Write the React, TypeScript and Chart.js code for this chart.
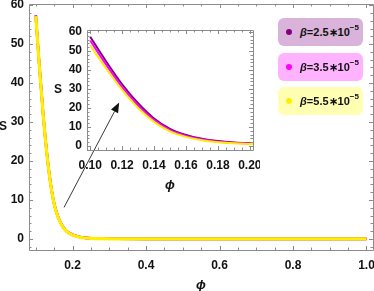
import React, { useEffect, useRef } from "react";
import { Chart, registerables } from "chart.js";

Chart.register(...registerables);

// ---- data ----
// inset (zoomed) curves
const phiValues = [0.1, 0.11, 0.12, 0.13, 0.14, 0.15, 0.16, 0.17, 0.18, 0.19, 0.2, 0.21, 0.22, 0.23, 0.25, 0.28, 0.32, 0.4, 0.6, 0.8, 1.0];
const sBeta25 = [57.5, 44.5, 32.5, 22.5, 14.5, 9.0, 5.8, 3.8, 2.6, 1.9, 1.5, 1.2, 0.95, 0.75, 0.45, 0.2, 0.08, 0.02, 0, 0, 0];
const sBeta35 = [55.5, 42.8, 31.0, 21.3, 13.6, 8.4, 5.3, 3.4, 2.3, 1.7, 1.3, 1.05, 0.8, 0.62, 0.38, 0.17, 0.06, 0.02, 0, 0, 0];
const sBeta55 = [53.0, 40.8, 29.5, 20.0, 12.7, 7.7, 4.8, 3.0, 2.0, 1.4, 1.1, 0.85, 0.65, 0.5, 0.3, 0.13, 0.05, 0.01, 0, 0, 0];
// main-plot curves (as they appear in the full view: nearly coincident)
const mainS25 = [57.4, 44.2, 32.2, 22.2, 14.5, 9.05, 5.85, 3.75, 2.38, 1.58, 1.08, 0.74, 0.49, 0.32, 0.15, 0.06, 0.02, 0, 0, 0, 0];
const mainS35 = [57.3, 44.1, 32.1, 22.1, 14.4, 9.0, 5.8, 3.7, 2.35, 1.55, 1.05, 0.72, 0.48, 0.31, 0.15, 0.06, 0.02, 0, 0, 0, 0];
const mainS55 = [57.2, 44.0, 32.0, 22.0, 14.3, 8.95, 5.75, 3.65, 2.32, 1.52, 1.02, 0.7, 0.47, 0.3, 0.14, 0.05, 0.02, 0, 0, 0, 0];

const seriesLabels = ["2.5", "3.5", "5.5"];
const seriesColors = ["#800080", "#ff00ff", "#ffee00"];
const legendFills = ["#d9b3d9", "#ffb3ff", "#ffffb3"];

// arrow annotation in main-plot data coordinates [phi, S]
const arrowFrom = [0.177, 8.1];
const arrowTo = [0.327, 35];

const FONT = "'Liberation Sans', Arial, sans-serif";

const toPoints = (ys: number[]) => phiValues.map((x, i) => ({ x, y: ys[i] }));

const framePlugin = {
  id: "frame",
  afterDraw(chart: any, _args: any, opts: any) {
    const { ctx, chartArea: a } = chart;
    const xs = chart.scales.x;
    const ys = chart.scales.y;
    ctx.save();
    ctx.strokeStyle = "#8c8c8c";
    ctx.lineWidth = 1;
    ctx.beginPath();
    ctx.rect(Math.round(a.left) + 0.5, Math.round(a.top) + 0.5, Math.round(a.right - a.left), Math.round(a.bottom - a.top));
    ctx.stroke();
    const major = 4;
    const minor = 2.5;
    ctx.beginPath();
    const xMajor = xs.ticks.map((t: any) => t.value);
    const yMajor = ys.ticks.map((t: any) => t.value);
    const drawX = (v: number, len: number) => {
      const p = Math.round(xs.getPixelForValue(v)) + 0.5;
      ctx.moveTo(p, a.bottom);
      ctx.lineTo(p, a.bottom - len);
      ctx.moveTo(p, a.top);
      ctx.lineTo(p, a.top + len);
    };
    const drawY = (v: number, len: number) => {
      const p = Math.round(ys.getPixelForValue(v)) + 0.5;
      ctx.moveTo(a.left, p);
      ctx.lineTo(a.left + len, p);
      ctx.moveTo(a.right, p);
      ctx.lineTo(a.right - len, p);
    };
    xMajor.forEach((v: number) => drawX(v, major));
    yMajor.forEach((v: number) => drawY(v, major));
    const isMajor = (v: number, arr: number[], step: number) => arr.some((m) => Math.abs(m - v) < step * 0.01);
    for (let k = Math.ceil(xs.min / opts.xMinor); k * opts.xMinor <= xs.max; k++) {
      const v = k * opts.xMinor;
      if (!isMajor(v, xMajor, opts.xMinor)) drawX(v, minor);
    }
    for (let k = Math.ceil(ys.min / opts.yMinor); k * opts.yMinor <= ys.max; k++) {
      const v = k * opts.yMinor;
      if (!isMajor(v, yMajor, opts.yMinor)) drawY(v, minor);
    }
    ctx.stroke();

    // axis titles
    ctx.fillStyle = "#111";
    ctx.textAlign = "center";
    ctx.textBaseline = "middle";
    ctx.font = `bold italic 13px ${FONT}`;
    ctx.fillText("ϕ", (a.left + a.right) / 2, a.bottom + opts.xTitleOffset);
    ctx.font = `bold 12px ${FONT}`;
    ctx.fillText("S", a.left - opts.yTitleOffset, (a.top + a.bottom) / 2);

    // arrow
    if (opts.arrow) {
      const x1 = xs.getPixelForValue(arrowFrom[0]);
      const y1 = ys.getPixelForValue(arrowFrom[1]);
      const x2 = xs.getPixelForValue(arrowTo[0]);
      const y2 = ys.getPixelForValue(arrowTo[1]);
      const ang = Math.atan2(y2 - y1, x2 - x1);
      const hl = 10;
      const hw = 4;
      const bx = x2 - hl * Math.cos(ang);
      const by = y2 - hl * Math.sin(ang);
      ctx.strokeStyle = "#222";
      ctx.fillStyle = "#111";
      ctx.lineWidth = 0.9;
      ctx.beginPath();
      ctx.moveTo(x1, y1);
      ctx.lineTo(bx, by);
      ctx.stroke();
      ctx.beginPath();
      ctx.moveTo(x2, y2);
      ctx.lineTo(bx + hw * Math.sin(ang), by - hw * Math.cos(ang));
      ctx.lineTo(bx - hw * Math.sin(ang), by + hw * Math.cos(ang));
      ctx.closePath();
      ctx.fill();
    }
    ctx.restore();
  },
};

function makeDatasets(series: number[][], widths: number[]) {
  const sets = series.map((ys, i) => ({
    label: seriesLabels[i],
    data: toPoints(ys),
    borderColor: seriesColors[i],
    backgroundColor: seriesColors[i],
    borderWidth: widths[i],
    pointRadius: 0,
    cubicInterpolationMode: "monotone" as const,
    fill: false,
  }));
  // Chart.js paints dataset 0 last; put the largest β first so it lies on top
  return sets.reverse();
}

function makeOptions(cfg: any) {
  return {
    animation: false as const,
    responsive: false,
    maintainAspectRatio: false,
    layout: { padding: cfg.padding },
    plugins: {
      legend: { display: false },
      tooltip: { enabled: false },
      frame: cfg.frame,
    },
    scales: {
      x: {
        type: "linear" as const,
        min: cfg.xMin,
        max: cfg.xMax,
        grid: { display: false, drawTicks: false },
        border: { display: false },
        ticks: {
          stepSize: cfg.xStep,
          includeBounds: false,
          padding: cfg.xPad,
          color: "#111",
          font: { family: FONT, size: 12, weight: "bold" as const },
          maxRotation: 0,
          autoSkip: false,
          callback: (v: any) => Number(v).toFixed(cfg.xDigits),
        },
        afterFit: (s: any) => {
          s.height = cfg.xHeight;
          s.paddingLeft = 0;
          s.paddingRight = 0;
        },
      },
      y: {
        type: "linear" as const,
        min: cfg.yMin,
        max: cfg.yMax,
        grid: { display: false, drawTicks: false },
        border: { display: false },
        ticks: {
          stepSize: 10,
          includeBounds: false,
          padding: cfg.yPad,
          color: "#111",
          font: { family: FONT, size: 12, weight: "bold" as const },
          autoSkip: false,
          callback: (v: any) => String(Math.round(Number(v))),
        },
        afterFit: (s: any) => {
          s.width = cfg.yWidth;
          s.paddingTop = 0;
          s.paddingBottom = 0;
        },
      },
    },
  };
}

export default function App() {
  const mainRef = useRef<HTMLCanvasElement>(null);
  const insetRef = useRef<HTMLCanvasElement>(null);

  useEffect(() => {
    document.body.style.margin = "0";
    const main = new Chart(mainRef.current as HTMLCanvasElement, {
      type: "line",
      data: { datasets: makeDatasets([mainS25, mainS35, mainS55], [2.6, 2.6, 3.2]) as any },
      options: makeOptions({
        padding: { left: 0, top: 4, right: 1, bottom: 0 },
        xMin: 0.0816,
        xMax: 1.0177,
        xStep: 0.2,
        xDigits: 1,
        xPad: 8,
        xHeight: 41,
        yMin: -2.85,
        yMax: 60.3,
        yPad: 5,
        yWidth: 29,
        frame: { xMinor: 0.05, yMinor: 2, xTitleOffset: 35, yTitleOffset: 26, arrow: true },
      }) as any,
      plugins: [framePlugin],
    });
    const inset = new Chart(insetRef.current as HTMLCanvasElement, {
      type: "line",
      data: { datasets: makeDatasets([sBeta25, sBeta35, sBeta55], [2, 2, 2]) as any },
      options: makeOptions({
        padding: { left: 0, top: 10, right: 7, bottom: 0 },
        xMin: 0.098,
        xMax: 0.202,
        xStep: 0.02,
        xDigits: 2,
        xPad: 8,
        xHeight: 45,
        yMin: -2.1,
        yMax: 61.05,
        yPad: 5,
        yWidth: 47,
        frame: { xMinor: 0.005, yMinor: 2, xTitleOffset: 35, yTitleOffset: 29, arrow: false },
      }) as any,
      plugins: [framePlugin],
    });
    return () => {
      main.destroy();
      inset.destroy();
    };
  }, []);

  const boxTops = [18, 53, 87];

  return (
    <div style={{ position: "relative", width: 374, height: 291, background: "#fff", overflow: "hidden" }}>
      <canvas ref={mainRef} width={374} height={291} style={{ position: "absolute", left: 0, top: 0, width: 374, height: 291 }} />
      <canvas ref={insetRef} width={220} height={175} style={{ position: "absolute", left: 40, top: 20, width: 220, height: 175 }} />
      {seriesLabels.map((lab, i) => (
        <div
          key={lab}
          style={{
            position: "absolute",
            left: 278,
            top: boxTops[i],
            width: 85,
            height: 28,
            borderRadius: 6,
            background: legendFills[i],
            display: "flex",
            alignItems: "center",
            fontFamily: FONT,
            fontWeight: "bold",
            fontSize: 11,
            color: "#111",
            whiteSpace: "nowrap",
          }}
        >
          <span
            style={{
              display: "inline-block",
              width: 6,
              height: 6,
              borderRadius: 3,
              background: seriesColors[i],
              marginLeft: 8,
              marginRight: 8,
            }}
          />
          <span>
            <i>β</i>={lab}∗10<sup style={{ fontSize: 8, verticalAlign: "top", position: "relative", top: -3 }}>−5</sup>
          </span>
        </div>
      ))}
    </div>
  );
}
